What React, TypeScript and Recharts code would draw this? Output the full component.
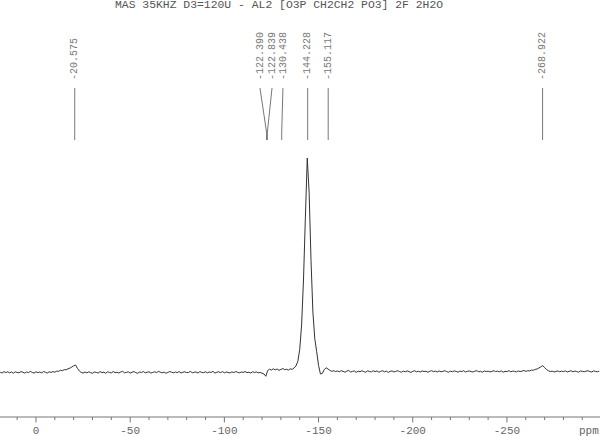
import React from 'react';
import { ComposedChart, Line, Scatter, XAxis, YAxis, ReferenceLine } from 'recharts';

const title = 'MAS 35KHZ D3=120U - AL2 [O3P CH2CH2 PO3] 2F 2H2O';

// spectrum sampled every 1 ppm, from +19 ppm down to -299 ppm
const ppmStart = 19;
const intensity: number[] = [
  -0.1, -0.5, 0.2, -0.3, 0.1, -0.4, 0.0, -0.6, 0.1, -0.2, // 19..10
  -0.4, 0.2, -0.1, -0.5, 0.0, -0.3, 0.3, -0.2, -0.5, 0.1, // 9..0
  -0.3, 0.0, -0.4, 0.2, -0.1, -0.5, 0.1, -0.2, 0.2, -0.1, // -1..-10
  0.4, 0.3, 0.8, 0.6, 1.1, 1.0, 1.5, 1.8, 2.3, 2.9, // -11..-20
  3.3, 1.7, 0.5, -0.2, -0.5, 0.0, -0.4, 0.1, -0.3, -0.6, // -21..-30
  0.0, -0.2, -0.5, 0.2, -0.3, -0.1, -0.6, 0.1, -0.2, -0.4, // -31..-40
  0.2, -0.3, -0.1, -0.5, 0.0, 0.3, -0.4, -0.2, 0.1, -0.5, // -41..-50
  -0.1, 0.2, -0.3, -0.6, 0.0, -0.2, 0.2, -0.4, -0.1, 0.1, // -51..-60
  -0.5, -0.2, 0.1, -0.3, 0.3, -0.1, -0.4, 0.0, -0.6, -0.2, // -61..-70
  0.2, -0.1, -0.4, 0.0, -0.3, 0.2, -0.5, -0.1, 0.1, -0.3, // -71..-80
  -0.2, 0.3, -0.4, -0.1, 0.0, -0.5, 0.2, -0.2, -0.3, 0.1, // -81..-90
  -0.4, 0.0, -0.2, 0.3, -0.5, -0.1, 0.1, -0.3, 0.2, -0.4, // -91..-100
  0.0, -0.2, -0.5, 0.1, -0.3, 0.2, -0.1, -0.4, 0.0, -0.2, // -101..-110
  0.2, -0.3, -0.1, -0.5, 0.1, -0.2, 0.0, -0.4, -0.2, -0.6, // -111..-120
  -0.9, -2.0, 0.7, 1.3, 0.9, 1.5, 1.0, 1.4, 0.8, 1.2, // -121..-130
  1.6, 1.1, 1.3, 0.9, 1.5, 1.2, 1.9, 2.8, 5.0, 10.5, // -131..-140
  22, 43, 72, 100, 84, 52, 28, 15.5, 9.5, 3.0, // -141..-150
  -0.9, -0.7, 1.1, 2.0, 1.4, 0.8, 0.3, 0.6, 0.2, 0.5, // -151..-160
  0.1, 0.6, 0.3, -0.1, 0.4, 0.7, 0.0, 0.3, 0.5, -0.2, // -161..-170
  0.4, 0.1, 0.6, 0.2, -0.1, 0.5, 0.3, 0.0, 0.6, 0.2, // -171..-180
  0.5, -0.1, 0.3, 0.6, 0.1, 0.4, -0.2, 0.3, 0.5, 0.0, // -181..-190
  0.3, 0.6, 0.2, -0.1, 0.4, 0.1, 0.5, 0.2, -0.2, 0.3, // -191..-200
  0.6, 0.1, 0.3, 0.0, 0.5, 0.2, 0.4, -0.1, 0.3, 0.6, // -201..-210
  0.2, 0.4, 0.0, 0.5, 0.1, 0.3, 0.6, 0.2, -0.1, 0.4, // -211..-220
  0.1, 0.5, 0.3, -0.1, 0.4, 0.2, 0.6, 0.0, 0.3, 0.5, // -221..-230
  0.2, 0.0, 0.4, 0.6, 0.1, 0.3, -0.1, 0.5, 0.2, 0.4, // -231..-240
  0.0, 0.3, 0.6, 0.2, 0.4, 0.1, 0.5, -0.1, 0.3, 0.2, // -241..-250
  0.6, 0.1, 0.4, 0.3, 0.0, 0.5, 0.2, 0.4, 0.7, 0.3, // -251..-260
  0.6, 0.5, 0.9, 0.8, 1.2, 1.4, 1.9, 2.4, 3.0, 2.0, // -261..-270
  1.2, 0.6, 0.2, 0.4, 0.0, 0.3, 0.5, 0.1, 0.4, 0.2, // -271..-280
  0.5, 0.0, 0.3, 0.6, 0.1, 0.4, 0.2, -0.1, 0.5, 0.3, // -281..-290
  0.1, 0.4, 0.6, 0.2, 0.0, 0.5, 0.3, 0.1, 0.4, // -291..-299
];

const peakShifts = [-20.575, -122.39, -122.839, -130.438, -144.228, -155.117, -268.922];
const peakLabels = ['-20.575', '-122.390', '-122.839', '-130.438', '-144.228', '-155.117', '-268.922'];
// where each label's text column sits (ppm), spread apart where peaks crowd
const labelShifts = [-20.575, -118.9, -125.3, -131.1, -144.228, -155.117, -268.922];

const axisTicks = [
  10, 0, -10, -20, -30, -40, -50, -60, -70, -80, -90, -100, -110, -120, -130, -140, -150,
  -160, -170, -180, -190, -200, -210, -220, -230, -240, -250, -260, -270, -280, -290,
];

const spectrum = intensity.map((v, i) => ({ x: ppmStart - i, y: v }));

// annotation heights in intensity units
const LINE_BOTTOM = 108.4;
const LINE_KINK = 112.1;
const LINE_TOP = 132.7;
const TEXT_START = 136.4;

const labelData = peakLabels.map((t, i) => ({ x: labelShifts[i], y: TEXT_START, label: t }));

const MONO = '"Liberation Mono", "DejaVu Sans Mono", monospace';

const AxisTick = (props: any) => {
  const { x, y, payload } = props;
  const v = payload.value as number;
  const major = v % 50 === 0;
  return (
    <g>
      <line x1={x} x2={x} y1={y} y2={y + (major ? 5.5 : 3)} stroke="#777" strokeWidth={1} />
      {major && (
        <text x={x} y={y + 17} textAnchor="middle" fontFamily={MONO} fontSize={11} fill="#666">
          {String(v)}
        </text>
      )}
    </g>
  );
};

const PpmLabel = (props: any) => {
  const vb = props.viewBox || { x: 0, y: 417, width: 600, height: 19 };
  return (
    <text x={vb.x + vb.width - 21} y={vb.y + 17} fontFamily={MONO} fontSize={11} fill="#666">
      ppm
    </text>
  );
};

const LabelShape = (props: any) => {
  const { cx, cy, payload } = props;
  return (
    <text
      x={cx}
      y={cy}
      transform={`rotate(-90 ${cx} ${cy})`}
      textAnchor="start"
      dominantBaseline="middle"
      fontFamily={MONO}
      fontSize={10}
      fill="#777"
    >
      {payload.label}
    </text>
  );
};

export default function App() {
  return (
    <div style={{ position: 'absolute', left: 0, top: 0, width: 600, height: 436, background: '#fff' }}>
      <ComposedChart width={600} height={436} data={spectrum} margin={{ top: 30, right: 0, bottom: 0, left: 0 }}>
        <XAxis
          dataKey="x"
          type="number"
          domain={[-299.4, 19.1]}
          reversed
          allowDataOverflow
          ticks={axisTicks}
          interval={0}
          tickSize={0}
          tickMargin={0}
          tickLine={false}
          axisLine={{ stroke: '#777', strokeWidth: 1 }}
          height={19}
          tick={<AxisTick />}
          label={{ value: 'ppm', content: PpmLabel }}
        />
        <YAxis dataKey="y" type="number" domain={[-21.03, 159.81]} hide allowDataOverflow />
        <Line
          dataKey="y"
          type="linear"
          stroke="#333"
          strokeWidth={1}
          dot={false}
          activeDot={false}
          isAnimationActive={false}
        />
        {peakShifts.map((p, i) => (
          <ReferenceLine
            key={`d${i}`}
            segment={[
              { x: labelShifts[i], y: LINE_TOP },
              { x: p, y: LINE_KINK },
            ]}
            stroke="#777"
            strokeWidth={1}
            ifOverflow="visible"
          />
        ))}
        {peakShifts.map((p, i) => (
          <ReferenceLine
            key={`v${i}`}
            segment={[
              { x: p, y: LINE_KINK },
              { x: p, y: LINE_BOTTOM },
            ]}
            stroke="#777"
            strokeWidth={1}
            ifOverflow="visible"
          />
        ))}
        <Scatter data={labelData} dataKey="y" shape={LabelShape} isAnimationActive={false} />
      </ComposedChart>
      <div
        style={{
          position: 'absolute',
          left: 115,
          top: 0,
          fontFamily: MONO,
          fontSize: 11.4,
          lineHeight: '11.4px',
          color: '#555',
          whiteSpace: 'pre',
        }}
      >
        {title}
      </div>
    </div>
  );
}
